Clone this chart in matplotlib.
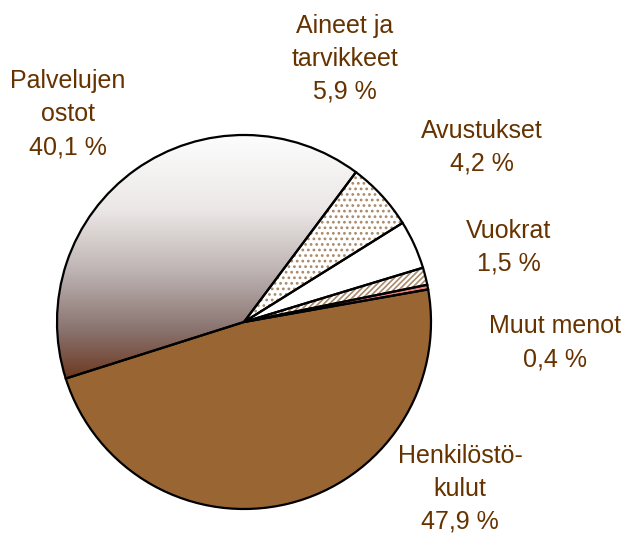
import numpy as np
import matplotlib
matplotlib.use("Agg")
import matplotlib.pyplot as plt
from matplotlib.colors import LinearSegmentedColormap
from matplotlib.patches import Wedge

# data
categories = ["Henkilöstö-\nkulut", "Muut menot", "Vuokrat", "Avustukset",
              "Aineet ja\ntarvikkeet", "Palvelujen\nostot"]
shares = [47.9, 0.4, 1.5, 4.2, 5.9, 40.1]

W, H = 627, 540
plt.rcParams["font.family"] = ["Liberation Sans", "DejaVu Sans"]
plt.rcParams["hatch.linewidth"] = 1.2

fig = plt.figure(figsize=(W / 100, H / 100), dpi=100)
ax = fig.add_axes([0, 0, 1, 1])

cx, cy, r = 244, H - 322, 187
start = 197.6

fills = ["#996633", "#f08080", "white", "white", "white", "none"]
wedges, _ = ax.pie(shares, colors=fills, startangle=start, counterclock=True,
                   center=(cx, cy), radius=r, frame=True,
                   wedgeprops=dict(linewidth=0))

# patterns: dotted (Aineet) and diagonal (Vuokrat)
hatch_col = "#a88a6a"
for idx, pat in [(2, "//////"), (4, "...")]:
    w = wedges[idx]
    hw = Wedge(w.center, w.r, w.theta1, w.theta2, facecolor="none",
               edgecolor=hatch_col, hatch=pat, linewidth=0, zorder=2)
    ax.add_patch(hw)

# gradient for Palvelujen ostot
grad_cmap = LinearSegmentedColormap.from_list(
    "pal", [(0, "#fdfdfd"), (0.3, "#ebe7e6"), (0.55, "#bdb3b2"),
            (0.78, "#8a7470"), (1.0, "#6a3318")])
top, bot = cy + r, H - 384
grad = np.linspace(0, 1, 256).reshape(-1, 1)
im = ax.imshow(grad, cmap=grad_cmap, aspect="auto",
               extent=[cx - r, cx + r, bot, top], origin="upper", zorder=1.5)
im.set_clip_path(wedges[5])

# outlines
outl, _ = ax.pie(shares, colors=["none"] * len(shares), startangle=start,
                 counterclock=True, center=(cx, cy), radius=r, frame=True,
                 wedgeprops=dict(linewidth=1.6, edgecolor="black"))
for w in outl:
    w.set_zorder(3)

ax.set_xlim(0, W)
ax.set_ylim(0, H)
ax.set_aspect("equal")
ax.axis("off")

# labels
label_pos = [(460, 463), (555, 333), (509, 238), (482, 138), (345, 33), (68, 88)]
step = 33
txt_col = "#663300"
for cat, val, (lx, ly) in zip(categories, shares, label_pos):
    lines = cat.split("\n") + [f"{val:.1f} %".replace(".", ",")]
    for i, line in enumerate(lines):
        ax.text(lx, H - (ly + i * step), line, ha="center", va="baseline",
                fontsize=18, color=txt_col)

fig.savefig("out.png", dpi=100)
